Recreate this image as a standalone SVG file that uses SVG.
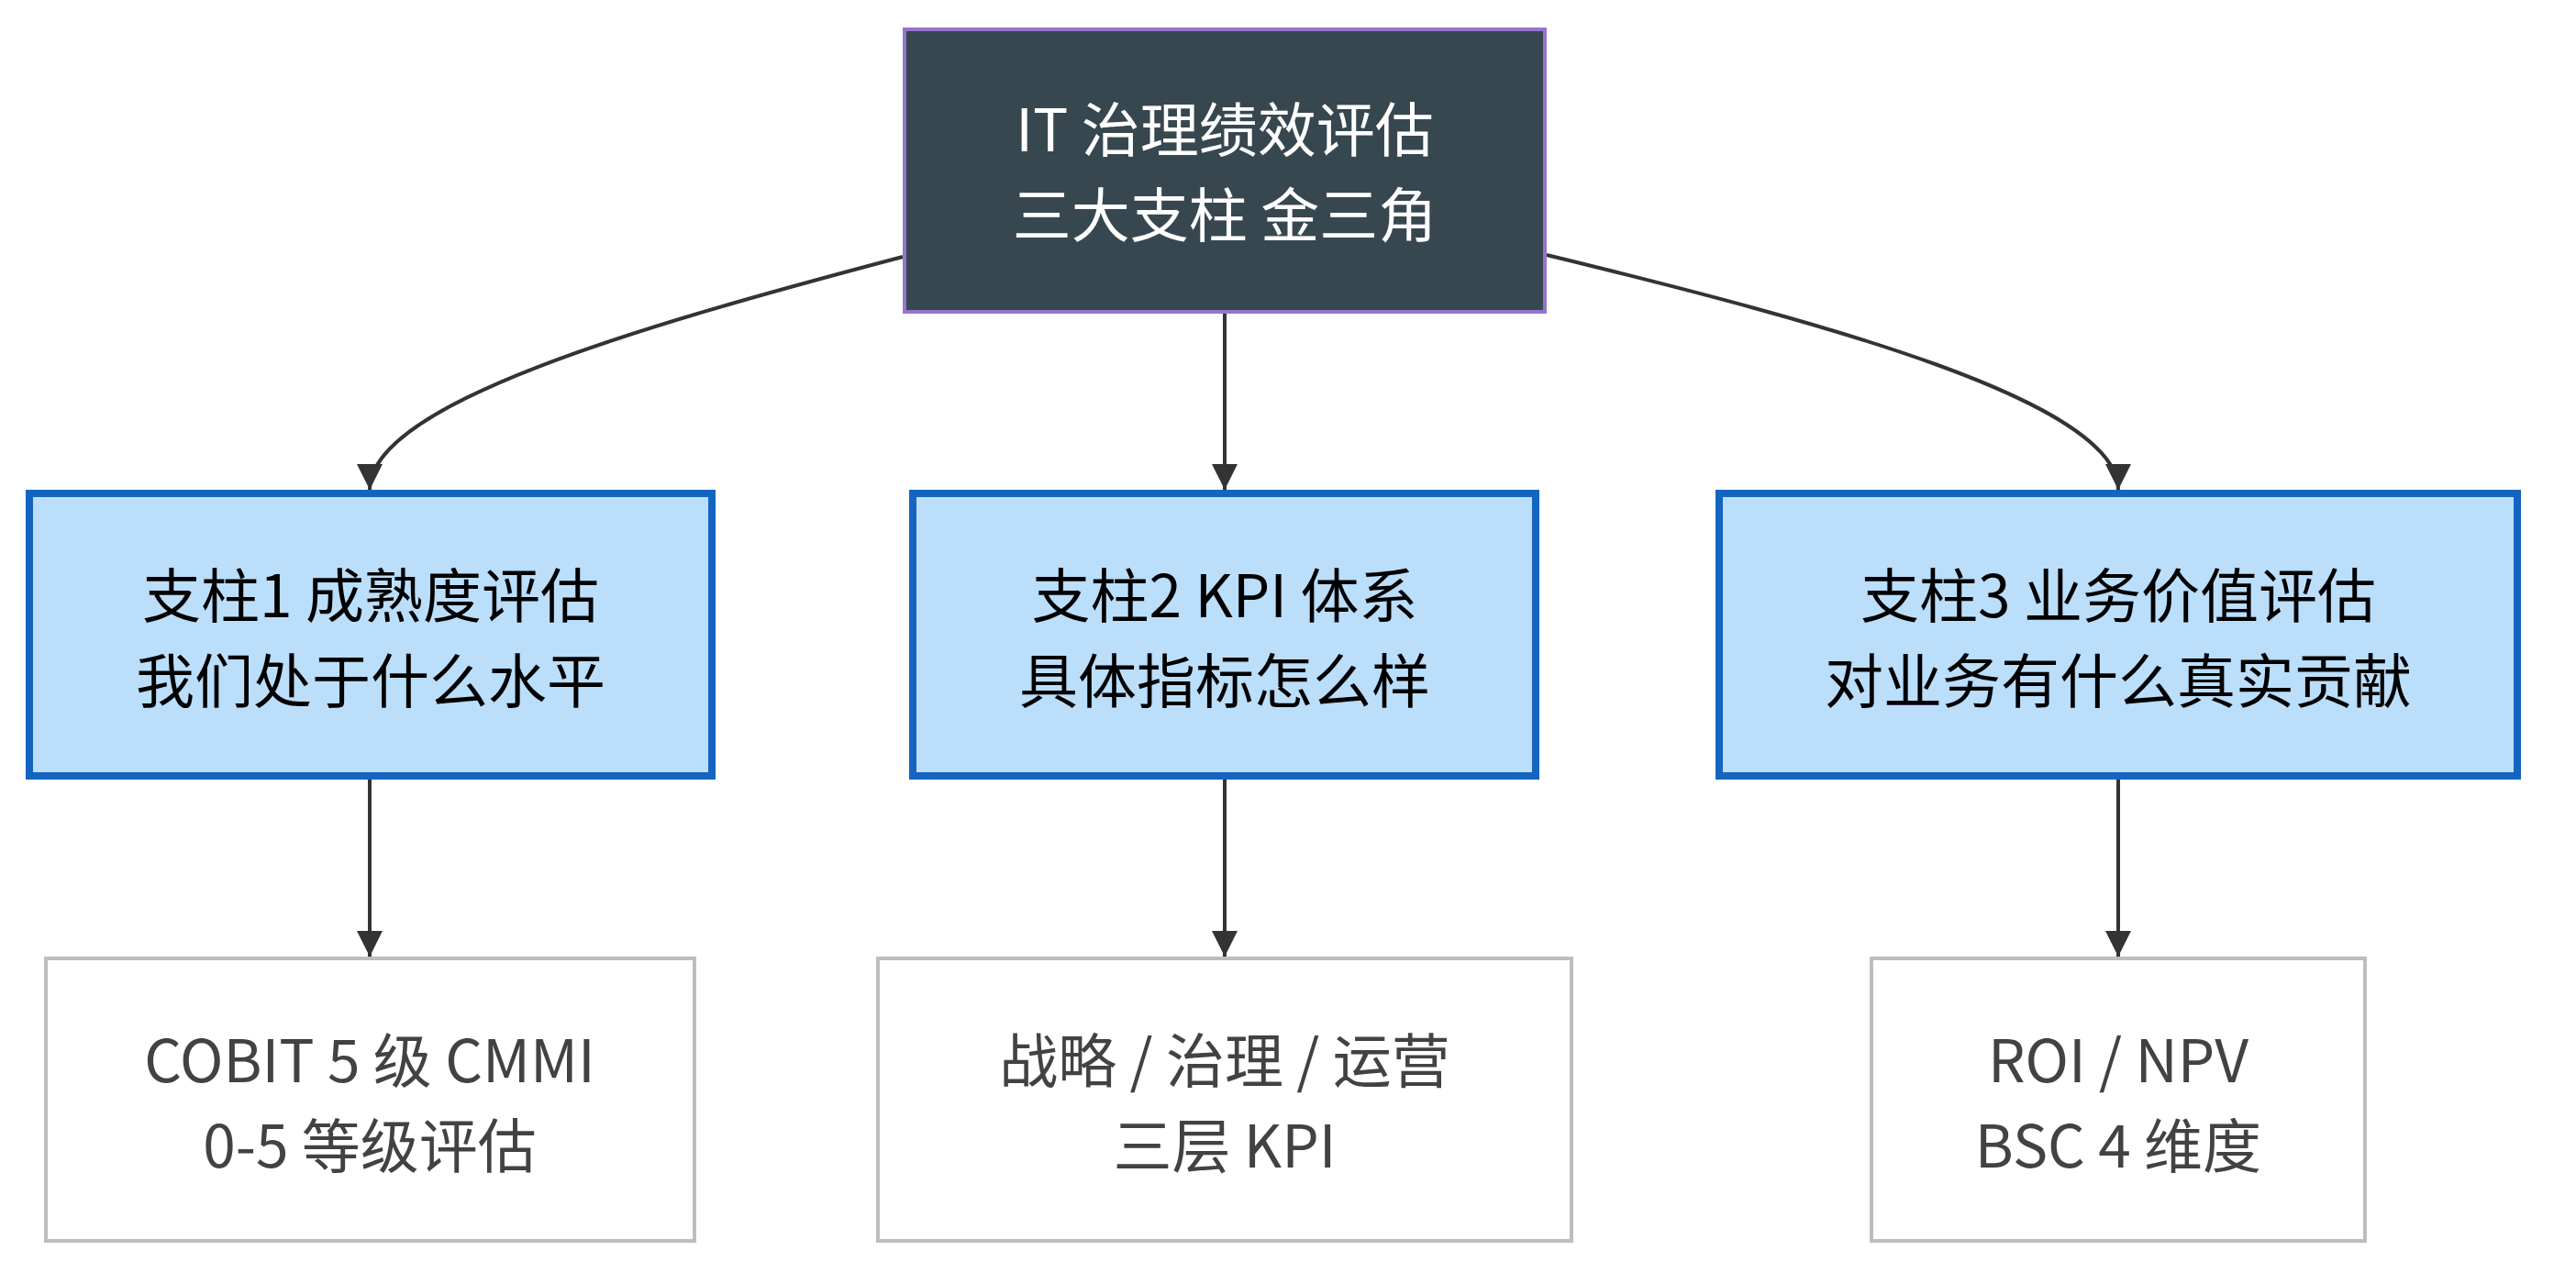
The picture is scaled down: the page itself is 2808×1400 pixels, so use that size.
<svg xmlns="http://www.w3.org/2000/svg" width="2808" height="1400" viewBox="0 0 2808 1400">
<style>
text{font-family:"Noto Sans CJK SC","Noto Sans",sans-serif;font-size:64px;text-anchor:middle;dominant-baseline:central}
.root rect{fill:#37474F;stroke:#9575CD;stroke-width:4}
.root text{fill:#FFFFFF}
.pillar rect{fill:#BBDEFB;stroke:#1565C0;stroke-width:8}
.pillar text{fill:#000000}
.leaf rect{fill:#FFFFFF;stroke:#BDBDBD;stroke-width:4}
.leaf text{fill:#424242}
.edges path{fill:none;stroke:#333333;stroke-width:4}
</style>
<defs>
<marker id="arr" viewBox="0 0 10 10" refX="10" refY="5" markerUnits="userSpaceOnUse" markerWidth="28" markerHeight="32" orient="auto">
<path d="M0,0 L10,5 L0,10 z" fill="#333333"/>
</marker>
</defs>
<rect width="2808" height="1400" fill="#FFFFFF"/>
<g class="edges">
<path d="M984,280 C700,355 403,440 403,534" marker-end="url(#arr)"/>
<path d="M1335,342 L1335,534" marker-end="url(#arr)"/>
<path d="M1686,278 C1990,352 2309,438 2309,534" marker-end="url(#arr)"/>
<path d="M403,850 L403,1043" marker-end="url(#arr)"/>
<path d="M1335,850 L1335,1043" marker-end="url(#arr)"/>
<path d="M2309,850 L2309,1043" marker-end="url(#arr)"/>
</g>
<g id="root" class="root">
<rect x="986" y="32" width="698" height="308"/>
<text x="1335" y="137">IT 治理绩效评估</text>
<text x="1335" y="230">三大支柱 金三角</text>
</g>
<g id="p1" class="pillar">
<rect x="32" y="538" width="744" height="308"/>
<text x="404" y="645">支柱1 成熟度评估</text>
<text x="404" y="738">我们处于什么水平</text>
</g>
<g id="p2" class="pillar">
<rect x="995" y="538" width="679" height="308"/>
<text x="1335" y="645">支柱2 KPI 体系</text>
<text x="1335" y="738">具体指标怎么样</text>
</g>
<g id="p3" class="pillar">
<rect x="1874" y="538" width="870" height="308"/>
<text x="2309" y="645">支柱3 业务价值评估</text>
<text x="2309" y="738">对业务有什么真实贡献</text>
</g>
<g id="l1" class="leaf">
<rect x="50" y="1045" width="707" height="308"/>
<text x="403" y="1152">COBIT 5 级 CMMI</text>
<text x="403" y="1245">0-5 等级评估</text>
</g>
<g id="l2" class="leaf">
<rect x="957" y="1045" width="756" height="308"/>
<text x="1335" y="1152">战略 / 治理 / 运营</text>
<text x="1335" y="1245">三层 KPI</text>
</g>
<g id="l3" class="leaf">
<rect x="2040" y="1045" width="538" height="308"/>
<text x="2309" y="1152">ROI / NPV</text>
<text x="2309" y="1245">BSC 4 维度</text>
</g>
</svg>
